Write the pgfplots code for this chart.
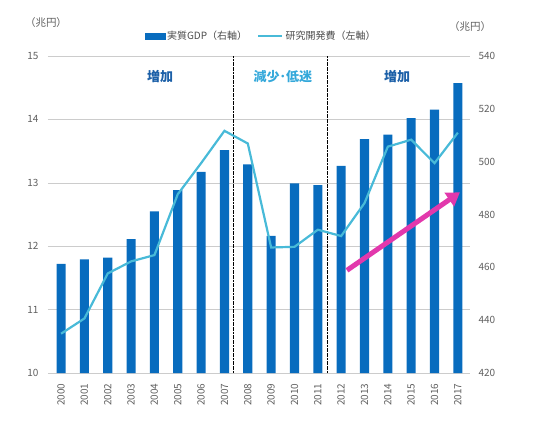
\documentclass[border=0pt]{standalone}
\usepackage{fontspec}
\setmainfont{Noto Sans CJK JP}
\usepackage{pgfplots}
\pgfplotsset{compat=1.18}
\usetikzlibrary{arrows.meta}
\definecolor{gdp}{RGB}{8,108,190}
\definecolor{rd}{RGB}{72,186,216}
\definecolor{incr}{RGB}{28,96,168}
\definecolor{decr}{RGB}{52,168,218}
\definecolor{arrowc}{RGB}{226,56,172}
\definecolor{tickc}{RGB}{95,95,95}
\pgfplotsset{
  common/.style={
    scale only axis, width=422pt, height=317pt,
    at={(0pt,0pt)}, anchor=south west,
    xmin=-0.56, xmax=17.52,
    axis line style={draw=none}, tick style={draw=none},
    tick label style={font=\fontsize{10}{12}\selectfont, text=tickc},
    /pgf/number format/assume math mode=true,
  }
}
\begin{document}
\begin{tikzpicture}[x=1pt,y=1pt]
\path[use as bounding box] (-48,-51) rectangle (502,373);
% axis 1: left scale, grid and tick labels
\begin{axis}[common,
  ymin=10, ymax=15, ytick={10,11,12,13,14,15},
  ymajorgrids, grid style={draw=black!20, line width=0.6pt},
  yticklabel shift=6pt,
  xtick={0,...,17},
  xticklabels={2000,2001,2002,2003,2004,2005,2006,2007,2008,2009,2010,2011,2012,2013,2014,2015,2016,2017},
  xticklabel style={rotate=90, anchor=east},
  xticklabel shift=7pt,
]
\addplot[draw=none] coordinates {(0,10) (17,10)};
\end{axis}
% axis 2: right scale, GDP bars
\begin{axis}[common,
  ymin=420, ymax=540, ytick={420,440,460,480,500,520,540},
  axis y line*=right, yticklabel shift=5pt,
  xtick=\empty,
  ybar, bar width=0.39,
]
\addplot[fill=gdp, draw=none] coordinates {
(0,461.3) (1,463.0) (2,463.7) (3,470.7) (4,481.2) (5,489.2) (6,496.1) (7,504.4) (8,499.0)
(9,471.9) (10,491.8) (11,491.1) (12,498.4) (13,508.5) (14,510.2) (15,516.5) (16,519.7) (17,529.7)};
\end{axis}
% axis 3: left scale, R&D line, annotations
\begin{axis}[common,
  ymin=10, ymax=15, ytick=\empty, xtick=\empty,
  clip=false,
  legend style={at={(0.505,1.063)}, anchor=center, draw=none, fill=none,
    legend columns=2, font=\fontsize{10}{12}\selectfont, text=black!70,
    /tikz/every even column/.append style={column sep=8pt}},
]
\addlegendimage{legend image code/.code={\fill[gdp] (0pt,-3pt) rectangle (20pt,3pt);}}
\addlegendentry{実質GDP（右軸）}
\addlegendimage{legend image code/.code={\draw[rd, line width=2.5pt] (0pt,0pt) -- (24pt,0pt);}}
\addlegendentry{研究開発費（左軸）}
\draw[black, line width=0.8pt, dash pattern=on 2pt off 0.6pt] (axis cs:7.38,10) -- (axis cs:7.38,15);
\draw[black, line width=0.8pt, dash pattern=on 2pt off 0.6pt] (axis cs:11.43,10) -- (axis cs:11.43,15);
\addplot[rd, line width=2.2pt, mark=none] coordinates {
(0,10.62) (1,10.86) (2,11.57) (3,11.76) (4,11.86) (5,12.82) (6,13.31) (7,13.82) (8,13.62)
(9,11.98) (10,11.99) (11,12.26) (12,12.16) (13,12.68) (14,13.57) (15,13.68) (16,13.31) (17,13.79)};
\draw[arrowc, line width=5pt, -{Triangle[length=13pt,width=16pt]}] (axis cs:12.25,11.62) -- (axis cs:17.09,12.85);
\node[font=\bfseries\fontsize{13}{14}\selectfont, text=incr] at (axis cs:4.24,14.68) {増加};
\node[font=\bfseries\fontsize{13}{14}\selectfont, text=decr] at (axis cs:9.5,14.68) {減少･低迷};
\node[font=\bfseries\fontsize{13}{14}\selectfont, text=incr] at (axis cs:14.4,14.68) {増加};
\end{axis}
\node[font=\fontsize{10.5}{12}\selectfont, text=tickc] at (-2,350) {（兆円）};
\node[font=\fontsize{10.5}{12}\selectfont, text=tickc] at (422,346) {（兆円）};
\end{tikzpicture}
\end{document}
